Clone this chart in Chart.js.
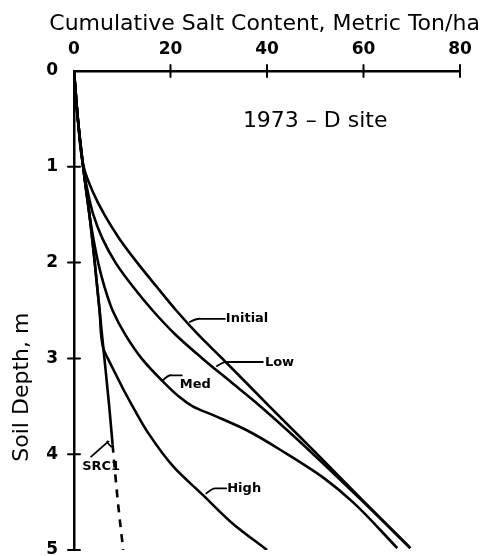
<!DOCTYPE html>
<html>
<head>
<meta charset="utf-8">
<script src="https://cdn.jsdelivr.net/npm/chart.js@4"></script>
<style>
  html, body { margin: 0; padding: 0; background: #fff; }
</style>
</head>
<body>
<canvas id="saltChart" width="482" height="556"></canvas>
<script>
// tick labels
const saltTicks = [0, 20, 40, 60, 80];
const depthTicks = [0, 1, 2, 3, 4, 5];

// cumulative salt (metric ton/ha) against soil depth (m)
const initialDepth = [0, 0.5, 1.0, 1.25, 1.5, 1.75, 2.0, 2.25, 2.5, 2.75, 3.0, 3.5, 4.0, 4.5, 4.98];
const initialSalt  = [0, 0.8, 2.0, 3.8, 6.3, 9.4, 13.1, 17.1, 21.2, 25.7, 30.7, 40.5, 50.4, 60.2, 69.7];

const lowDepth = [0, 0.5, 1.0, 1.25, 1.5, 1.75, 2.0, 2.25, 2.5, 2.75, 3.0, 3.25, 3.5, 4.0, 4.5, 4.98];
const lowSalt  = [0, 0.8, 1.9, 2.8, 4.0, 5.9, 8.6, 12.2, 16.3, 21.0, 26.6, 32.6, 38.6, 49.6, 60.0, 69.7];

const medDepth = [0, 0.5, 1.0, 1.5, 1.6, 2.0, 2.25, 2.5, 2.75, 3.0, 3.25, 3.4, 3.5, 3.6, 3.75, 4.0, 4.25, 4.5, 4.98];
const medSalt  = [0, 0.8, 1.9, 3.2, 3.5, 5.0, 6.3, 8.0, 10.6, 14.0, 18.6, 21.8, 24.6, 29.2, 35.8, 44.2, 51.8, 57.8, 67.0];

const highDepth = [0, 0.5, 1.0, 1.5, 2.0, 2.5, 2.9, 3.0, 3.15, 3.33, 3.55, 3.78, 4.13, 4.43, 4.72, 5.0];
const highSalt  = [0, 0.8, 1.9, 3.2, 4.3, 5.3, 6.1, 7.0, 8.5, 10.3, 12.7, 15.4, 20.6, 26.8, 32.8, 40.0];

const src1Depth = [0, 0.5, 1.0, 1.5, 2.0, 2.5, 2.9, 3.5, 3.9, 4.5, 5.0];
const src1Salt  = [0, 0.8, 1.9, 3.2, 4.3, 5.3, 6.1, 7.3, 8.0, 9.1, 10.2];

const FONT = '"DejaVu Sans", "Liberation Sans", sans-serif';

function pairs(xs, ds) {
    return xs.map((v, i) => ({ x: v, y: ds[i] }));
}

// titles, cross ticks, site label and the curve labels
const notesPlugin = {
    id: 'notes',
    afterDraw(chart) {
        const { ctx, scales: { x, y } } = chart;
        const line = (x1, y1, x2, y2) => {
            ctx.beginPath(); ctx.moveTo(x1, y1); ctx.lineTo(x2, y2); ctx.stroke();
        };
        ctx.save();
        ctx.strokeStyle = '#000';
        ctx.fillStyle = '#000';
        ctx.lineCap = 'round';

        ctx.lineWidth = 2;
        saltTicks.slice(1).forEach(v => {
            const px = x.getPixelForValue(v);
            line(px, y.top - 6, px, y.top + 6);
        });
        depthTicks.slice(1).forEach(v => {
            const py = y.getPixelForValue(v);
            line(x.left - 6, py, x.left + 6, py);
        });

        ctx.font = '22px ' + FONT;
        ctx.textBaseline = 'middle';
        ctx.textAlign = 'center';
        ctx.fillText('Cumulative Salt Content, Metric Ton/ha', x.getPixelForValue(39.5), y.top - 47);

        ctx.textAlign = 'left';
        ctx.fillText('1973 \u2013 D site', x.getPixelForValue(35), y.getPixelForValue(0.53));

        ctx.save();
        ctx.translate(x.left - 52, y.getPixelForValue(3.3));
        ctx.rotate(-Math.PI / 2);
        ctx.textAlign = 'center';
        ctx.fillText('Soil Depth, m', 0, 0);
        ctx.restore();

        const notes = [
            { text: 'Initial', at: [23.6, 2.63], path: [[2, -1], [10, -4], [37, -4]], tx: 38, ty: -4 },
            { text: 'Low', at: [29.2, 3.09], path: [[2, -1], [10, -5], [48, -5]], tx: 50, ty: -4 },
            { text: 'Med', at: [18.2, 3.24], path: [[1, -1], [7, -6], [20, -6]], tx: 18, ty: 3 },
            { text: 'High', at: [27.2, 4.42], path: [[1, -1], [8, -6], [21, -6]], tx: 22, ty: -6 },
            { text: 'SRC1', at: [7.7, 3.9], path: [[0, 2], [-6, -3], [-20, 12]], tx: -29, ty: 22 }
        ];
        ctx.font = 'bold 13px ' + FONT;
        ctx.lineWidth = 1.8;
        notes.forEach(n => {
            const ax = x.getPixelForValue(n.at[0]);
            const ay = y.getPixelForValue(n.at[1]);
            ctx.beginPath();
            ctx.moveTo(ax + n.path[0][0], ay + n.path[0][1]);
            ctx.quadraticCurveTo(ax + n.path[1][0], ay + n.path[1][1] - 1, ax + n.path[1][0] + 3, ay + n.path[1][1]);
            ctx.lineTo(ax + n.path[2][0], ay + n.path[2][1]);
            ctx.stroke();
            ctx.fillText(n.text, ax + n.tx, ay + n.ty);
        });
        ctx.restore();
    }
};

new Chart(document.getElementById('saltChart').getContext('2d'), {
    type: 'line',
    data: {
        datasets: [
            { label: 'Initial', data: pairs(initialSalt, initialDepth) },
            { label: 'Low', data: pairs(lowSalt, lowDepth) },
            { label: 'Med', data: pairs(medSalt, medDepth) },
            { label: 'High', data: pairs(highSalt, highDepth) },
            {
                label: 'SRC1',
                data: pairs(src1Salt, src1Depth),
                segment: { borderDash: c => c.p0.parsed.y >= 3.89 ? [8, 7] : undefined }
            }
        ]
    },
    options: {
        responsive: false,
        animation: false,
        indexAxis: 'y',
        layout: { padding: { left: 0, right: 22, top: 0, bottom: 6 } },
        elements: {
            point: { radius: 0 },
            line: { borderColor: '#000', borderWidth: 2.6, cubicInterpolationMode: 'monotone', fill: false }
        },
        plugins: {
            legend: { display: false },
            tooltip: { enabled: false }
        },
        scales: {
            x: {
                type: 'linear',
                position: 'top',
                min: 0,
                max: 80,
                afterBuildTicks: s => { s.ticks = saltTicks.map(v => ({ value: v })); },
                afterFit: s => { s.height = 71; s.paddingLeft = 0; s.paddingRight = 0; },
                ticks: { color: '#000', padding: 11, font: { family: FONT, size: 17, weight: 'bold' } },
                grid: { display: false, drawTicks: false },
                border: { color: '#000', width: 2.5 }
            },
            y: {
                type: 'linear',
                reverse: true,
                min: 0,
                max: 5,
                afterBuildTicks: s => { s.ticks = depthTicks.map(v => ({ value: v })); },
                afterFit: s => { s.width = 74; s.paddingTop = 0; s.paddingBottom = 0; },
                ticks: { color: '#000', padding: 16, font: { family: FONT, size: 17, weight: 'bold' } },
                grid: { display: false, drawTicks: false },
                border: { color: '#000', width: 2.5 }
            }
        }
    },
    plugins: [notesPlugin]
});
</script>
</body>
</html>
